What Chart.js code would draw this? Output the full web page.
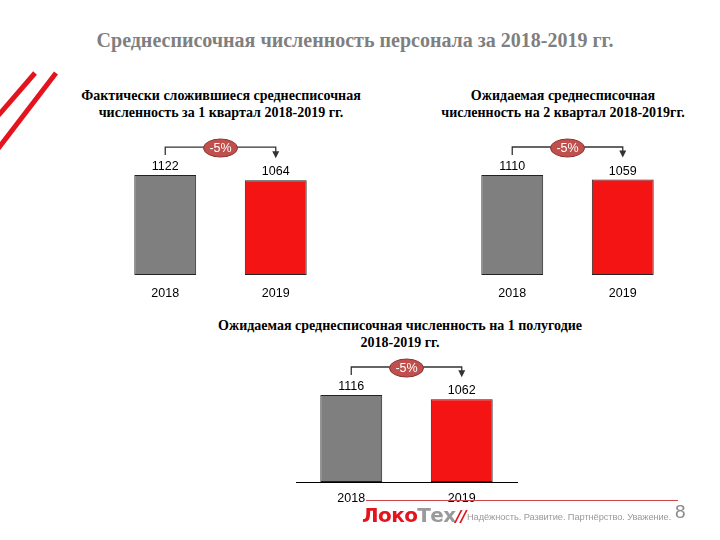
<!DOCTYPE html>
<html>
<head>
<meta charset="utf-8">
<script src="https://cdn.jsdelivr.net/npm/chart.js@4"></script>
<style>
  body { margin: 0; width: 720px; height: 540px; position: relative; background: #fff; overflow: hidden; }
  .t { position: absolute; text-align: center; font-family: "Liberation Serif", "DejaVu Serif", serif; font-weight: bold; color: #000; }
  canvas { position: absolute; }
</style>
</head>
<body>
<svg width="70" height="160" style="position:absolute;left:0;top:0">
  <line x1="35" y1="73" x2="-3" y2="117" stroke="#e3141e" stroke-width="5"/>
  <line x1="56" y1="73" x2="-3" y2="150" stroke="#e3141e" stroke-width="5"/>
</svg>

<div class="t" style="left:0;width:710px;top:29px;font-size:20px;color:#7f7f7f">Среднесписочная численность персонала за 2018-2019 гг.</div>
<div class="t" style="left:60px;width:322px;top:87px;font-size:14px;line-height:17px">Фактически сложившиеся среднесписочная<br>численность за 1 квартал 2018-2019 гг.</div>
<div class="t" style="left:420px;width:286px;top:87px;font-size:14px;line-height:17px">Ожидаемая среднесписочная<br>численность на 2 квартал 2018-2019гг.</div>
<div class="t" style="left:180px;width:440px;top:317px;font-size:14px;line-height:17px">Ожидаемая среднесписочная численность на 1 полугодие<br>2018-2019 гг.</div>

<canvas id="q1Chart" width="240" height="185" style="left:100px;top:120px"></canvas>
<canvas id="q2Chart" width="240" height="185" style="left:447px;top:120px"></canvas>
<canvas id="h1Chart" width="240" height="185" style="left:286px;top:327px"></canvas>

<div style="position:absolute;left:366px;top:500px;width:312px;height:1px;background:#c9474a"></div>
<div style="position:absolute;left:362px;top:503px;font-family:'DejaVu Sans',sans-serif;font-weight:bold;font-size:20px;letter-spacing:-0.6px">
  <span style="color:#e3141e">Локо</span><span style="color:#9a9a9a">Тех</span><span style="color:#e3141e;font-style:italic;font-size:16px">//</span>
</div>
<div style="position:absolute;left:467px;top:512px;font-family:'Liberation Sans',sans-serif;font-size:9.3px;color:#9a9a9a;letter-spacing:-0.1px">Надёжность. Развитие. Партнёрство. Уважение.</div>
<div style="position:absolute;left:675px;top:501px;font-family:'Liberation Sans',sans-serif;font-size:19px;color:#8a8a8a">8</div>

<script>
// ============================
// DATA
// ============================
const years = ["2018", "2019"];
const q1Values = [1122, 1064];
const q2Values = [1110, 1059];
const h1Values = [1116, 1062];

const barColors = ["#7f7f7f", "#f51414"];

// value labels + "-5%" bracket
const annotatePlugin = {
  id: "annotate",
  afterDatasetsDraw(chart) {
    const ctx = chart.ctx;
    const vals = chart.data.datasets[0].data;
    const bars = chart.getDatasetMeta(0).data;
    const a = bars[0], b = bars[1];

    ctx.save();
    ctx.fillStyle = "#000";
    ctx.font = "12.5px 'Liberation Sans', sans-serif";
    ctx.textAlign = "center";
    ctx.textBaseline = "alphabetic";
    bars.forEach((bar, i) => ctx.fillText(String(vals[i]), bar.x, bar.y - 5));

    const y0 = a.y - 28;
    ctx.strokeStyle = "#333";
    ctx.lineWidth = 1.3;
    ctx.beginPath();
    ctx.moveTo(a.x, a.y - 20);
    ctx.lineTo(a.x, y0);
    ctx.lineTo(b.x, y0);
    ctx.lineTo(b.x, b.y - 27);
    ctx.stroke();
    ctx.fillStyle = "#333";
    ctx.beginPath();
    ctx.moveTo(b.x - 3.5, b.y - 29);
    ctx.lineTo(b.x + 3.5, b.y - 29);
    ctx.lineTo(b.x, b.y - 22);
    ctx.closePath();
    ctx.fill();

    const cx = (a.x + b.x) / 2;
    ctx.fillStyle = "#c0504d";
    ctx.strokeStyle = "#8c3331";
    ctx.lineWidth = 1;
    ctx.beginPath();
    ctx.ellipse(cx, y0 + 1, 17, 9, 0, 0, Math.PI * 2);
    ctx.fill();
    ctx.stroke();

    const pct = Math.round((vals[1] - vals[0]) / vals[0] * 100);
    ctx.fillStyle = "#fff";
    ctx.font = "12.5px 'Liberation Sans', sans-serif";
    ctx.textBaseline = "middle";
    ctx.fillText(pct + "%", cx, y0 + 1.5);
    ctx.restore();
  },
};

function makeChart(id, values, yMax, axisLine, tickPad) {
  new Chart(document.getElementById(id), {
    type: "bar",
    data: {
      labels: years,
      datasets: [{
        data: values,
        backgroundColor: barColors,
        borderColor: "#222",
        borderWidth: 1,
        borderSkipped: false,
        categoryPercentage: 1,
        barPercentage: 0.56,
      }],
    },
    options: {
      responsive: false,
      animation: false,
      layout: { padding: { top: 25, left: 10, right: 9, bottom: 0 } },
      plugins: { legend: { display: false }, tooltip: { enabled: false } },
      scales: {
        y: { display: false, min: 0, max: yMax },
        x: {
          grid: { display: false, drawTicks: false },
          border: { display: axisLine, color: "#000", width: 1 },
          ticks: { color: "#000", font: { family: "'Liberation Sans', sans-serif", size: 12.5 }, padding: tickPad },
          afterFit: (s) => { s.height = 30; },
        },
      },
    },
    plugins: [annotatePlugin],
  });
}

makeChart("q1Chart", q1Values, 1459, false, 11);
makeChart("q2Chart", q2Values, 1443, false, 11);
makeChart("h1Chart", h1Values, 1668, true, 9);
</script>
</body>
</html>
